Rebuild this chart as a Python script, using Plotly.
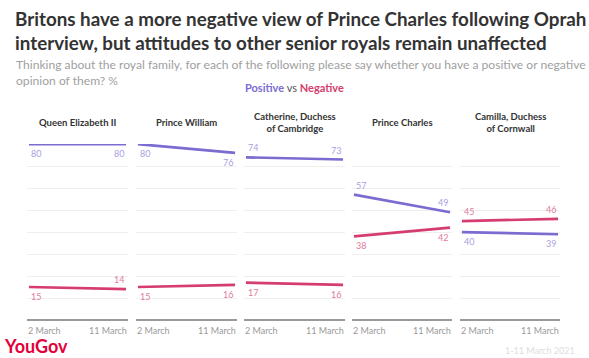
import plotly.graph_objects as go

people = ["Queen Elizabeth II", "Prince William", "Catherine, Duchess<br>of Cambridge",
          "Prince Charles", "Camilla, Duchess<br>of Cornwall"]
dates = ["2 March", "11 March"]
positive = [[80, 80], [80, 76], [74, 73], [57, 49], [40, 39]]
negative = [[15, 14], [15, 16], [17, 16], [38, 42], [45, 46]]
y_ticks = [0, 10, 20, 30, 40, 50, 60, 70, 80]

# label placement (style): 1 = above line, -1 = below line
pos_place = [[-1, -1], [-1, -1], [1, 1], [1, 1], [-1, -1]]
neg_place = [[-1, 1], [-1, -1], [-1, -1], [-1, -1], [1, 1]]

POS = "#7a6cd1"
NEG = "#d43d6e"
POS_T = "#a89fe0"
NEG_T = "#e07c9c"
W, H = 589, 358
FONT = "Lato"

panels_px = [(27, 128), (136, 237), (244, 345), (352, 452), (460, 560)]
y_top, y_bot = 144, 320

fig = go.Figure()
anns = []
layout = {}
for i, (name, (x0, x1)) in enumerate(zip(people, panels_px)):
    n = i + 1
    xa = "x" if n == 1 else f"x{n}"
    ya = "y" if n == 1 else f"y{n}"
    fig.add_trace(go.Scatter(x=dates, y=positive[i], mode="lines", xaxis=xa, yaxis=ya,
                             line=dict(color=POS, width=2.7), cliponaxis=False,
                             showlegend=False, hoverinfo="x+y"))
    fig.add_trace(go.Scatter(x=dates, y=negative[i], mode="lines", xaxis=xa, yaxis=ya,
                             line=dict(color=NEG, width=2.7), cliponaxis=False,
                             showlegend=False, hoverinfo="x+y"))
    layout[f"xaxis{'' if n == 1 else n}"] = dict(
        domain=[x0 / W, x1 / W], type="category", range=[-0.02, 1.02],
        showticklabels=False, showgrid=False, zeroline=False, fixedrange=True,
        anchor=ya)
    layout[f"yaxis{'' if n == 1 else n}"] = dict(
        domain=[(H - y_bot) / H, (H - y_top) / H], range=[0, 80.05],
        tickvals=y_ticks, showticklabels=False, showgrid=True, gridcolor="#efefef",
        gridwidth=1, zeroline=True, zerolinecolor="#9a9a9a", zerolinewidth=1.5,
        fixedrange=True, anchor=xa)
    # panel title
    anns.append(dict(text=f"<b>{name}</b>", xref="paper", yref="paper",
                     x=(x0 + x1) / 2 / W, y=(H - 122) / H, xanchor="center", yanchor="middle",
                     showarrow=False, font=dict(family=FONT, size=9.5, color="#333333")))
    # tick labels
    for j, d in enumerate(dates):
        anns.append(dict(text=d, xref=xa, yref="paper", x=d, y=(H - 330) / H,
                         xanchor="left" if j == 0 else "right", yanchor="middle",
                         xshift=-3 if j == 0 else 3,
                         showarrow=False, font=dict(family=FONT, size=9, color="#999999")))
    # value labels
    for vals, places, col in ((positive[i], pos_place[i], POS_T), (negative[i], neg_place[i], NEG_T)):
        for j, (v, p) in enumerate(zip(vals, places)):
            anns.append(dict(text=str(v), xref=xa, yref=ya, x=dates[j], y=v,
                             xanchor="left" if j == 0 else "right",
                             yanchor="bottom" if p > 0 else "top",
                             yshift=2 if p > 0 else -2,
                             showarrow=False, font=dict(family=FONT, size=9, color=col)))

anns += [
    dict(text="<b>Britons have a more negative view of Prince Charles following Oprah<br>"
              "interview, but attitudes to other senior royals remain unaffected</b>",
         xref="paper", yref="paper", x=13 / W, y=1 - 5 / H, xanchor="left", yanchor="top",
         align="left", showarrow=False,
         font=dict(family=FONT, size=18.8, color="#333333")),
    dict(text="Thinking about the royal family, for each of the following please say whether you have a positive or negative<br>"
              "opinion of them? %",
         xref="paper", yref="paper", x=14 / W, y=1 - 55 / H, xanchor="left", yanchor="top",
         align="left", showarrow=False,
         font=dict(family=FONT, size=12.1, color="#a0a0a0")),
    dict(text=f"<b><span style='color:{POS}'>Positive</span></b> vs "
              f"<b><span style='color:{NEG}'>Negative</span></b>",
         xref="paper", yref="paper", x=0.5, y=1 - 88 / H, xanchor="center", yanchor="middle",
         showarrow=False, font=dict(family=FONT, size=11, color="#555555")),
    dict(text="<b>YouGov</b>", xref="paper", yref="paper", x=2 / W, y=1 - 346 / H,
         xanchor="left", yanchor="middle", showarrow=False,
         font=dict(family=FONT, size=18, color="#e4003b")),
    dict(text="1-11 March 2021", xref="paper", yref="paper", x=577 / W, y=1 - 350 / H,
         xanchor="right", yanchor="middle", showarrow=False,
         font=dict(family=FONT, size=9, color="#dddddd")),
]

fig.update_layout(width=W, height=H, margin=dict(l=0, r=0, t=0, b=0),
                  paper_bgcolor="white", plot_bgcolor="white",
                  annotations=anns, showlegend=False, **layout)
fig.write_html("out.html", config={"displayModeBar": False},
               post_script="document.body.style.margin='0';document.body.style.overflow='hidden';")
